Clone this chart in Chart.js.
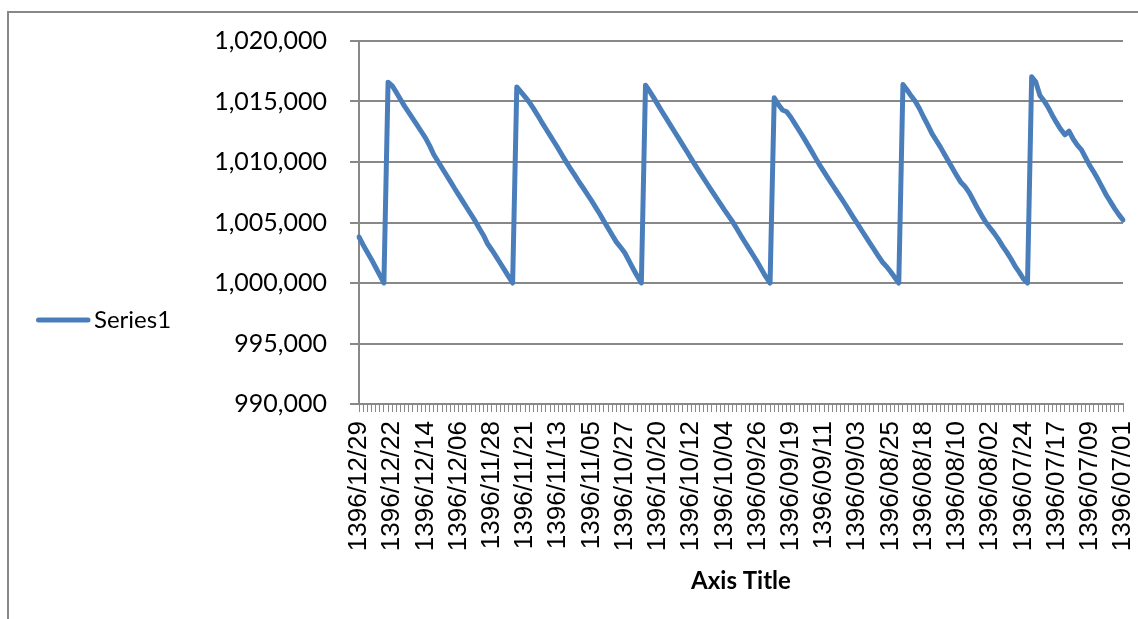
<!DOCTYPE html>
<html>
<head>
<meta charset="utf-8">
<script src="https://cdn.jsdelivr.net/npm/chart.js@4/dist/chart.umd.min.js"></script>
<style>
  html, body { margin: 0; padding: 0; background: #ffffff; }
  #wrap { width: 1138px; height: 619px; }
</style>
</head>
<body>
<div id="wrap"><canvas id="c" width="1138" height="619"></canvas></div>
<script>
// Daily NAV of the fund, newest first. The 23rd of each month appears twice:
// the later entry is the value after the monthly payout.
const dates = [
  '1396/12/29','1396/12/28','1396/12/27','1396/12/26','1396/12/25','1396/12/24','1396/12/23','1396/12/23',
  '1396/12/22','1396/12/21','1396/12/20','1396/12/19','1396/12/18','1396/12/17','1396/12/16','1396/12/15',
  '1396/12/14','1396/12/13','1396/12/12','1396/12/11','1396/12/10','1396/12/09','1396/12/08','1396/12/07',
  '1396/12/06','1396/12/05','1396/12/04','1396/12/03','1396/12/02','1396/12/01',
  '1396/11/30','1396/11/29','1396/11/28','1396/11/27','1396/11/26','1396/11/25','1396/11/24','1396/11/23',
  '1396/11/23','1396/11/22','1396/11/21','1396/11/20','1396/11/19','1396/11/18','1396/11/17','1396/11/16',
  '1396/11/15','1396/11/14','1396/11/13','1396/11/12','1396/11/11','1396/11/10','1396/11/09','1396/11/08',
  '1396/11/07','1396/11/06','1396/11/05','1396/11/04','1396/11/03','1396/11/02','1396/11/01',
  '1396/10/30','1396/10/29','1396/10/28','1396/10/27','1396/10/26','1396/10/25','1396/10/24','1396/10/23',
  '1396/10/23','1396/10/22','1396/10/21','1396/10/20','1396/10/19','1396/10/18','1396/10/17','1396/10/16',
  '1396/10/15','1396/10/14','1396/10/13','1396/10/12','1396/10/11','1396/10/10','1396/10/09','1396/10/08',
  '1396/10/07','1396/10/06','1396/10/05','1396/10/04','1396/10/03','1396/10/02','1396/10/01',
  '1396/09/30','1396/09/29','1396/09/28','1396/09/27','1396/09/26','1396/09/25','1396/09/24','1396/09/23',
  '1396/09/23','1396/09/22','1396/09/21','1396/09/20','1396/09/19','1396/09/18','1396/09/17','1396/09/16',
  '1396/09/15','1396/09/14','1396/09/13','1396/09/12','1396/09/11','1396/09/10','1396/09/09','1396/09/08',
  '1396/09/07','1396/09/06','1396/09/05','1396/09/04','1396/09/03','1396/09/02','1396/09/01',
  '1396/08/30','1396/08/29','1396/08/28','1396/08/27','1396/08/26','1396/08/25','1396/08/24','1396/08/23',
  '1396/08/23','1396/08/22','1396/08/21','1396/08/20','1396/08/19','1396/08/18','1396/08/17','1396/08/16',
  '1396/08/15','1396/08/14','1396/08/13','1396/08/12','1396/08/11','1396/08/10','1396/08/09','1396/08/08',
  '1396/08/07','1396/08/06','1396/08/05','1396/08/04','1396/08/03','1396/08/02','1396/08/01',
  '1396/07/30','1396/07/29','1396/07/28','1396/07/27','1396/07/26','1396/07/25','1396/07/24','1396/07/23',
  '1396/07/23','1396/07/22','1396/07/21','1396/07/20','1396/07/19','1396/07/18','1396/07/17','1396/07/16',
  '1396/07/15','1396/07/14','1396/07/13','1396/07/12','1396/07/11','1396/07/10','1396/07/09','1396/07/08',
  '1396/07/07','1396/07/06','1396/07/05','1396/07/04','1396/07/03','1396/07/02','1396/07/01'
];

const navValues = [
  1003800, 1003150, 1002550, 1001950, 1001300, 1000650, 1000000,
  1016600, 1016300, 1015750, 1015170, 1014600, 1014080, 1013560, 1013050,
  1012520, 1012000, 1011350, 1010620, 1010060, 1009500, 1008950, 1008400,
  1007830, 1007290, 1006740, 1006200, 1005660, 1005110, 1004500, 1003930,
  1003220, 1002730, 1002200, 1001650, 1001100, 1000550, 1000000,
  1016200, 1015800, 1015380, 1014950, 1014430, 1013880, 1013300, 1012750,
  1012200, 1011650, 1011100, 1010520, 1009950, 1009420, 1008900, 1008350,
  1007850, 1007330, 1006800, 1006250, 1005700, 1005100, 1004520, 1003950,
  1003380, 1002950, 1002500, 1001850, 1001200, 1000580, 1000000,
  1016350, 1015850, 1015300, 1014720, 1014150, 1013600, 1013050, 1012500,
  1011950, 1011400, 1010850, 1010280, 1009720, 1009180, 1008650, 1008120,
  1007600, 1007080, 1006560, 1006040, 1005550, 1005050, 1004480, 1003900,
  1003350, 1002800, 1002250, 1001700, 1001100, 1000500, 1000000,
  1015300, 1014750, 1014300, 1014150, 1013700, 1013150, 1012600, 1012050,
  1011480, 1010900, 1010300, 1009720, 1009180, 1008650, 1008120, 1007600,
  1007080, 1006550, 1006000, 1005450, 1004920, 1004380, 1003850, 1003320,
  1002800, 1002270, 1001760, 1001380, 1000950, 1000480, 1000000,
  1016400, 1015950, 1015450, 1015000, 1014400, 1013700, 1013050, 1012350,
  1011800, 1011250, 1010650, 1010050, 1009450, 1008850, 1008300, 1007950,
  1007450, 1006800, 1006150, 1005550, 1005000, 1004550, 1004100, 1003600,
  1003050, 1002550, 1002000, 1001400, 1000900, 1000350, 1000000,
  1017050, 1016600, 1015500, 1015050, 1014500, 1013850, 1013250, 1012700,
  1012250, 1012550, 1011900, 1011400, 1011000, 1010350, 1009700, 1009150,
  1008550, 1007900, 1007250, 1006700, 1006150, 1005650, 1005200
];

const seriesName = 'Series1';
const xAxisTitle = 'Axis Title';
const yMin = 990000;
const yMax = 1020000;
const yStep = 5000;
const labelEvery = 8;

const lineColor = '#4A7EBB';
const axisGray = '#888888';

// Outer chart frame (runs past the right and bottom canvas edges)
const frame = {
  id: 'frame',
  beforeDraw(chart) {
    const ctx = chart.ctx;
    ctx.save();
    ctx.strokeStyle = axisGray;
    ctx.lineWidth = 2;
    ctx.strokeRect(8, 12, 1300, 800);
    ctx.restore();
  }
};

// Legend entry on the left: a short line sample followed by the series name
const sideLegend = {
  id: 'sideLegend',
  afterDraw(chart) {
    const ds = chart.data.datasets[0];
    const ctx = chart.ctx;
    const y = 320;
    ctx.save();
    ctx.strokeStyle = ds.borderColor;
    ctx.lineWidth = ds.borderWidth;
    ctx.lineCap = 'round';
    ctx.beginPath();
    ctx.moveTo(38.5, y);
    ctx.lineTo(88, y);
    ctx.stroke();
    ctx.fillStyle = '#000000';
    ctx.font = '24px Lato';
    ctx.textBaseline = 'middle';
    ctx.textAlign = 'left';
    ctx.fillText(ds.label, 94, y);
    ctx.restore();
  }
};

new Chart(document.getElementById('c'), {
  type: 'line',
  data: {
    labels: dates,
    datasets: [{
      label: seriesName,
      data: navValues,
      borderColor: lineColor,
      backgroundColor: lineColor,
      borderWidth: 5,
      pointRadius: 0,
      pointHoverRadius: 0,
      tension: 0,
      fill: false,
      borderJoinStyle: 'round',
      borderCapStyle: 'round'
    }]
  },
  options: {
    responsive: false,
    animation: false,
    events: [],
    layout: { padding: { left: 200, right: 15, top: 41, bottom: 0 } },
    plugins: {
      legend: { display: false },
      tooltip: { enabled: false }
    },
    scales: {
      x: {
        offset: false,
        grid: {
          display: true,
          drawOnChartArea: false,
          drawTicks: true,
          tickLength: 8,
          color: axisGray,
          lineWidth: 1
        },
        border: { display: true, color: axisGray, width: 2 },
        ticks: {
          autoSkip: false,
          maxRotation: 90,
          minRotation: 90,
          padding: 9,
          color: '#000000',
          font: { family: '"Liberation Sans", Arial, sans-serif', size: 26 },
          callback(value, index) {
            return index % labelEvery === 0 ? this.getLabelForValue(value) : '';
          }
        },
        title: {
          display: true,
          text: xAxisTitle,
          color: '#000000',
          font: { family: 'Lato', size: 24, weight: 'bold' },
          padding: { top: 0, bottom: 23 }
        },
        afterFit(scale) {
          scale.height = 215;
          scale.paddingLeft = 0;
          scale.paddingRight = 0;
        }
      },
      y: {
        min: yMin,
        max: yMax,
        ticks: {
          stepSize: yStep,
          padding: 23,
          color: '#000000',
          font: { family: 'Lato', size: 25 },
          callback(value) { return value.toLocaleString('en-US'); }
        },
        grid: { color: axisGray, lineWidth: 2, tickLength: 9, drawTicks: true },
        border: { display: true, color: axisGray, width: 2 },
        afterFit(scale) { scale.width = 159; }
      }
    }
  },
  plugins: [frame, sideLegend]
});
</script>
</body>
</html>
